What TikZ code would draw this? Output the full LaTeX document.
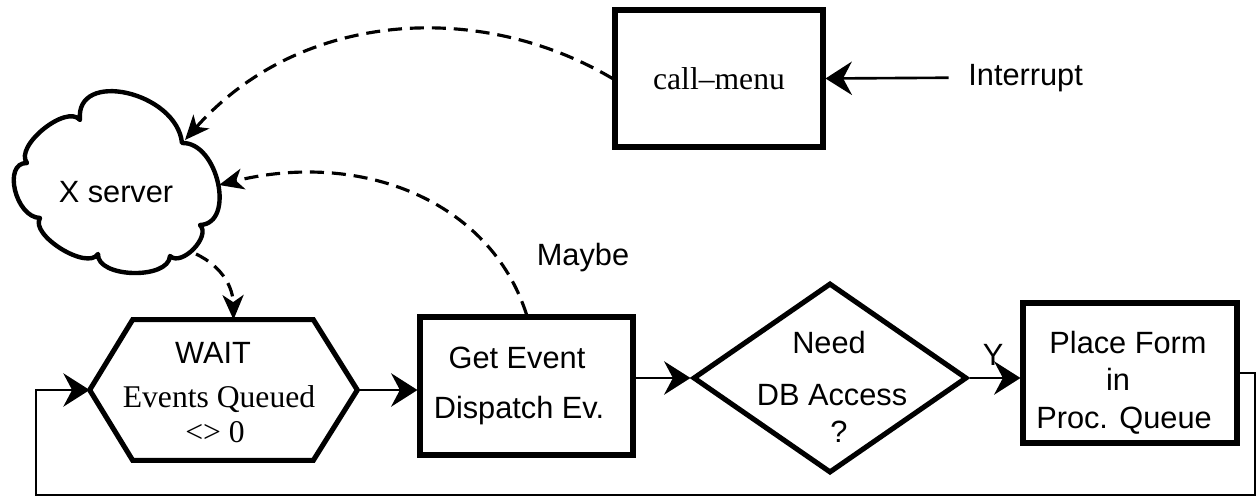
\documentclass[tikz,border=0pt]{standalone}
\usepackage{fontspec}
\setmainfont{Liberation Serif}
\setsansfont{Liberation Sans}
\usetikzlibrary{arrows.meta,shapes.geometric,calc}
\begin{document}
\begin{tikzpicture}[x=0.02cm,y=-0.02cm,
  shapebox/.style={draw, line width=2.9pt, inner sep=0pt},
  ghost/.style={draw=none, inner sep=0pt},
  sftext/.style={font=\sffamily\fontsize{17.5}{21}\selectfont, inner sep=0pt, anchor=base},
  rmtext/.style={font=\rmfamily\fontsize{18}{21}\selectfont, inner sep=0pt, anchor=base},
  flow/.style={line width=1.5pt, -{Stealth[length=15pt,width=19pt,inset=5pt]}},
  loopline/.style={line width=1.1pt, -{Stealth[length=15pt,width=19pt,inset=5pt]}},
  dashflow/.style={line width=1.8pt, dash pattern=on 8pt off 4.5pt, -{Stealth[length=14pt,width=12pt,inset=4pt]}},
  cloudline/.style={draw, line width=2.5pt, line join=round}
]
\useasboundingbox (0,0) rectangle (1258,497);

% cloud (X server)
\draw[cloudline] (80,120) .. controls (74.7,68.7) and (176.7,91.7) .. (182,143)
  .. controls (218,141.7) and (236,223.7) .. (200,225)
  .. controls (211.5,236.2) and (181.5,267.2) .. (170,256)
  .. controls (168.7,280) and (96.7,278) .. (98,254)
  .. controls (87.4,271) and (29.4,235) .. (40,218)
  .. controls (15.3,217.3) and (2.3,162.3) .. (27,163)
  .. controls (13.6,146.4) and (66.6,103.4) .. cycle;
\node[sftext] (xserver) at (116,202) {X server};
\coordinate (cloudA) at (185,140);
\coordinate (cloudB) at (219,185);
\coordinate (cloudC) at (196,254);

% call-menu
\node[shapebox, minimum width=4.16cm, minimum height=2.74cm,
      font=\rmfamily\fontsize{18}{21}\selectfont] (callmenu) at (719,78.5) {call–menu};
\node[sftext, anchor=base west] (interrupt) at (968,85) {Interrupt};

% WAIT hexagon
\node[ghost, minimum width=5.34cm, minimum height=2.8cm] (wait) at (223.5,390) {};
\draw[line width=2.9pt] (wait.west) -- ($(wait.north west)+(43,0)$) -- ($(wait.north east)+(-44,0)$)
  -- (wait.east) -- ($(wait.south east)+(-44,0)$) -- ($(wait.south west)+(43,0)$) -- cycle;
\node[sftext] (wait1) at (213,363) {WAIT};
\node[rmtext] (wait2) at (219,407) {Events Queued};
\node[rmtext] (wait3) at (215,442) {\textless\textgreater\ 0};
\coordinate (waitin) at ($(wait.north)+(10,0)$);

% Get Event
\node[shapebox, minimum width=4.26cm, minimum height=2.76cm] (getev) at (526.5,386) {};
\node[sftext] (getev1) at (517,368) {Get Event};
\node[sftext] (getev2) at (519,418) {Dispatch Ev.};

% decision
\node[shapebox, diamond, minimum width=5.48cm, minimum height=3.8cm] (need) at (830,378) {};
\node[sftext] (need1) at (829,353) {Need};
\node[sftext] (need2) at (832,405) {DB Access};
\node[sftext] (need3) at (839,442) {?};

% Place Form
\node[shapebox, minimum width=4.28cm, minimum height=2.8cm] (place) at (1130,373) {};
\node[sftext] (place1) at (1128,353) {Place Form};
\node[sftext] (place2) at (1118,390) {in};
\node[sftext] (place3) at (1124,428) {Proc. Queue};

% labels
\node[sftext] (maybe) at (583,265) {Maybe};
\node[sftext] (ylab) at (993,365) {Y};

% connectors
\draw[flow, shorten <=11pt] (interrupt.west) -- (callmenu.east);
\draw[dashflow] (callmenu.west) .. controls (480,0) and (300,10) .. (cloudA);
\draw[dashflow] (getev.north) .. controls (490,200) and (360,150) .. (cloudB);
\draw[dashflow] (cloudC) .. controls (225,268) and (233,290) .. (waitin);

\draw[flow] (wait.east) -- (wait.east -| getev.west);
\draw[flow] (getev.east |- need.west) -- (need.west);
\draw[flow] (need.east) -- (need.east -| place.west);

\coordinate (lr) at (1255,495);
\coordinate (ll) at (36,495);
\draw[loopline] (place.east) -| (lr) -- (ll) |- (wait.west);
\end{tikzpicture}
\end{document}
